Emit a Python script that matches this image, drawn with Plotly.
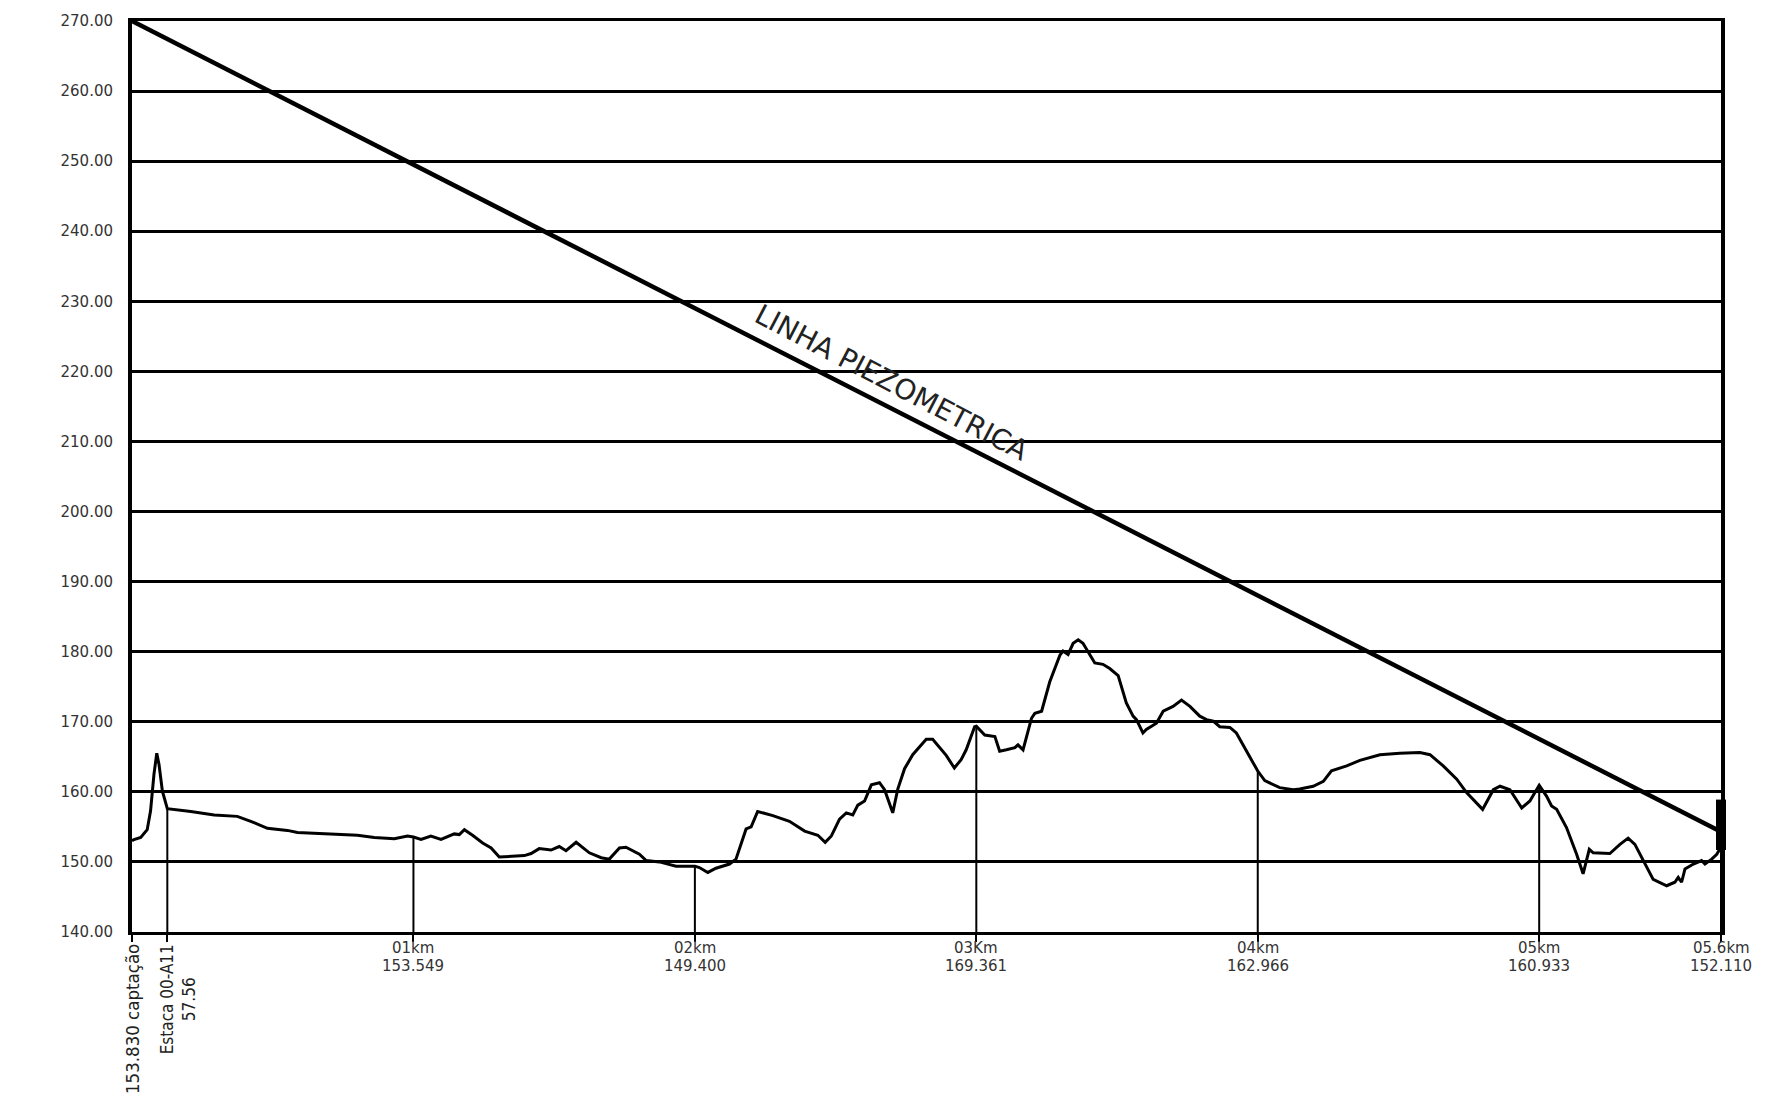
import plotly.graph_objects as go

# Ground profile along the pipeline (distance in km, elevation in m)
profile_km = [
    0.000, 0.007, 0.031, 0.054, 0.066, 0.078, 0.088, 0.096, 0.108, 0.1255,
    0.209, 0.292, 0.374, 0.422, 0.481, 0.552, 0.588, 0.683, 0.801, 0.861,
    0.932, 0.979, 1.000, 1.027, 1.062, 1.098, 1.145, 1.163, 1.181, 1.210,
    1.246, 1.276, 1.305, 1.394, 1.418, 1.447, 1.489, 1.518, 1.542, 1.578,
    1.625, 1.667, 1.696, 1.732, 1.755, 1.803, 1.827, 1.874, 1.933, 2.000,
    2.016, 2.046, 2.075, 2.123, 2.146, 2.182, 2.200, 2.223, 2.277, 2.336,
    2.390, 2.437, 2.463, 2.485, 2.514, 2.538, 2.561, 2.579, 2.603, 2.627,
    2.656, 2.674, 2.703, 2.721, 2.745, 2.774, 2.822, 2.845, 2.893, 2.922,
    2.946, 2.964, 2.994, 3.000, 3.030, 3.066, 3.083, 3.107, 3.137, 3.148,
    3.166, 3.196, 3.208, 3.232, 3.261, 3.297, 3.308, 3.326, 3.344, 3.362,
    3.379, 3.397, 3.421, 3.450, 3.474, 3.504, 3.533, 3.557, 3.569, 3.592,
    3.604, 3.640, 3.664, 3.699, 3.729, 3.759, 3.794, 3.818, 3.842, 3.865,
    3.901, 3.924, 3.960, 4.000, 4.025, 4.078, 4.126, 4.149, 4.197, 4.233,
    4.262, 4.316, 4.363, 4.434, 4.505, 4.576, 4.612, 4.659, 4.707, 4.742,
    4.799, 4.837, 4.861, 4.896, 4.938, 4.967, 5.000, 5.026, 5.044, 5.062,
    5.097, 5.133, 5.156, 5.178, 5.192, 5.251, 5.287, 5.316, 5.340, 5.370,
    5.405, 5.453, 5.482, 5.494, 5.506, 5.518, 5.548, 5.577, 5.589, 5.613,
    5.631, 5.646,
]
profile_elev = [
    153.0, 153.2, 153.5, 154.6, 157.3, 162.5, 165.5, 163.9, 160.1, 157.6,
    157.2, 156.7, 156.5, 155.8, 154.8, 154.5, 154.2, 154.0, 153.8, 153.5,
    153.3, 153.7, 153.549, 153.2, 153.7, 153.2, 154.0, 153.9, 154.6, 153.8,
    152.7, 152.0, 150.7, 150.9, 151.2, 151.9, 151.7, 152.2, 151.6, 152.8,
    151.3, 150.6, 150.4, 152.0, 152.1, 151.1, 150.2, 150.0, 149.4, 149.400,
    149.2, 148.5, 149.1, 149.7, 150.4, 154.7, 155.0, 157.2, 156.6, 155.8,
    154.4, 153.8, 152.8, 153.7, 156.1, 157.0, 156.7, 158.1, 158.7, 161.0,
    161.3, 160.3, 157.0, 160.4, 163.3, 165.3, 167.5, 167.5, 165.2, 163.4,
    164.6, 166.0, 169.3, 169.361, 168.1, 167.9, 165.8, 166.0, 166.3, 166.7,
    166.0, 170.5, 171.2, 171.5, 175.7, 179.5, 180.1, 179.6, 181.2, 181.7,
    181.2, 180.0, 178.4, 178.2, 177.6, 176.6, 172.7, 170.8, 170.3, 168.4,
    168.9, 169.8, 171.5, 172.2, 173.1, 172.2, 170.8, 170.3, 170.1, 169.3,
    169.2, 168.4, 165.8, 162.966, 161.6, 160.6, 160.3, 160.4, 160.8, 161.5,
    163.0, 163.7, 164.5, 165.3, 165.5, 165.6, 165.3, 163.7, 161.8, 159.9,
    157.5, 160.3, 160.8, 160.3, 157.7, 158.7, 160.933, 159.4, 158.0, 157.5,
    154.9, 151.1, 148.3, 151.8, 151.3, 151.2, 152.5, 153.4, 152.5, 150.1,
    147.5, 146.6, 147.1, 147.8, 147.1, 149.0, 149.7, 150.2, 149.7, 150.4,
    151.1, 152.110,
]

# Hydraulic grade line (linha piezométrica)
piezo_km = [0.0, 5.646]
piezo_elev = [270.0, 154.3]

# Stations marked with a vertical drop line and a label
station_km = [0.1255, 1.0, 2.0, 3.0, 4.0, 5.0, 5.646]
station_elev = [157.6, 153.549, 149.400, 169.361, 162.966, 160.933, 152.110]
km_labels = ["01km", "02km", "03Km", "04km", "05km", "05.6km"]
elev_labels = ["153.549", "149.400", "169.361", "162.966", "160.933", "152.110"]
start_label = "153.830 captação"
stake_label = "Estaca 00-A11<br>57.56"

# Reservoir / valve block at the end of the line
valve_km = 5.646
valve_elev = 155.3

y_ticks = list(range(140, 271, 10))
y_min, y_max = 140, 270

fig = go.Figure()

# vertical drop lines from the ground down to the base of the chart
drop_x, drop_y = [], []
for k, e in zip(station_km, station_elev):
    drop_x += [k, k, None]
    drop_y += [y_min, e, None]
fig.add_trace(go.Scatter(x=drop_x, y=drop_y, mode="lines",
                         line=dict(color="black", width=2), hoverinfo="skip"))

fig.add_trace(go.Scatter(x=profile_km, y=profile_elev, mode="lines",
                         line=dict(color="black", width=3)))

fig.add_trace(go.Scatter(x=piezo_km, y=piezo_elev, mode="lines",
                         line=dict(color="black", width=4.5)))

fig.add_trace(go.Scatter(x=[valve_km], y=[valve_elev], mode="markers",
                         marker=dict(symbol="line-ns", size=36, color="black",
                                     line=dict(color="black", width=10)),
                         cliponaxis=False))

label_font = dict(family="DejaVu Sans", size=15, color="#333")
narrow_font = dict(family="Liberation Sans Narrow, DejaVu Sans Condensed, Arial Narrow, sans-serif",
                   size=17, color="#222")

annotations = []
for k, kl, el in zip(station_km[1:], km_labels, elev_labels):
    annotations.append(dict(x=k, y=0, xref="x", yref="paper", text=kl,
                            showarrow=False, xanchor="center", yanchor="middle",
                            yshift=-16, font=label_font))
    annotations.append(dict(x=k, y=0, xref="x", yref="paper", text=el,
                            showarrow=False, xanchor="center", yanchor="middle",
                            yshift=-34, font=label_font))

annotations.append(dict(x=0, y=0, xref="x", yref="paper", text=start_label,
                        showarrow=False, textangle=-90, xanchor="center",
                        yanchor="top", yshift=-10,
                        font=dict(narrow_font, size=18.5)))
annotations.append(dict(x=station_km[0], y=0, xref="x", yref="paper", text=stake_label,
                        showarrow=False, textangle=-90, xanchor="center",
                        yanchor="top", yshift=-10, xshift=11, align="center",
                        font=narrow_font))

annotations.append(dict(x=2.681, y=217.3, xref="x", yref="y",
                        text="LINHA PIEZOMETRICA", showarrow=False,
                        textangle=27.6, xanchor="center", yanchor="middle",
                        xshift=5, yshift=8,
                        font=dict(family="DejaVu Sans", size=28, color="#222")))

fig.update_layout(
    width=1786, height=1098,
    margin=dict(l=132, r=65, t=16, b=166),
    paper_bgcolor="white", plot_bgcolor="white",
    showlegend=False,
    annotations=annotations,
    xaxis=dict(range=[0, piezo_km[-1]], showgrid=False, zeroline=False,
               showline=True, linecolor="black", linewidth=3, mirror=True,
               tickmode="array", tickvals=[0] + station_km,
               ticks="outside", ticklen=7, tickwidth=2, tickcolor="black",
               showticklabels=False),
    yaxis=dict(range=[y_min, y_max], tickmode="array", tickvals=y_ticks,
               tickformat=".2f", showgrid=True, gridcolor="black", gridwidth=2.5,
               zeroline=False, showline=True, linecolor="black", linewidth=4,
               mirror=True, ticks="", ticklabelstandoff=12,
               tickfont=label_font),
)

fig.write_html("out.html")
